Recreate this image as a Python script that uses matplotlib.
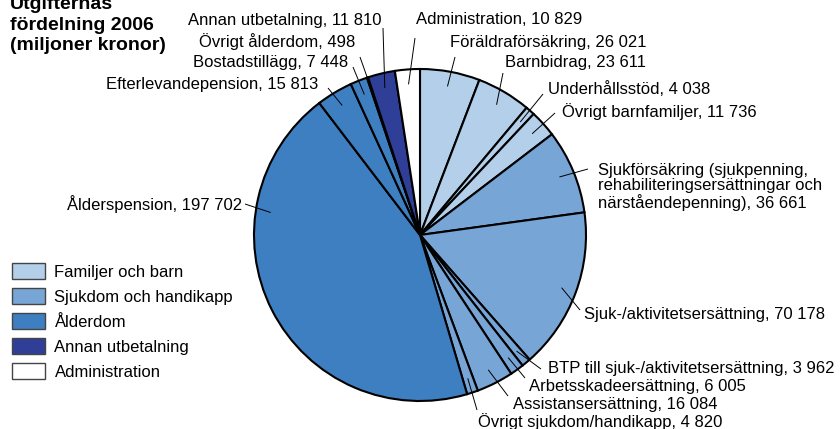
import matplotlib
matplotlib.use("Agg")
import matplotlib.pyplot as plt
from matplotlib.patches import Patch
import numpy as np

plt.rcParams['font.family'] = ['Liberation Sans', 'DejaVu Sans']

# ---- data ----
categories = ["Föräldraförsäkring", "Barnbidrag", "Underhållsstöd", "Övrigt barnfamiljer",
              "Sjukförsäkring (sjukpenning,\nrehabiliteringsersättningar och\nnärståendepenning)",
              "Sjuk-/aktivitetsersättning", "BTP till sjuk-/aktivitetsersättning",
              "Arbetsskadeersättning", "Assistansersättning", "Övrigt sjukdom/handikapp",
              "Ålderspension", "Efterlevandepension", "Bostadstillägg", "Övrigt ålderdom",
              "Annan utbetalning", "Administration"]
values = [26021, 23611, 4038, 11736, 36661, 70178, 3962, 6005, 16084, 4820,
          197702, 15813, 7448, 498, 11810, 10829]
value_labels = ["26 021", "23 611", "4 038", "11 736", "36 661", "70 178", "3 962", "6 005",
                "16 084", "4 820", "197 702", "15 813", "7 448", "498", "11 810", "10 829"]
groups = [0, 0, 0, 0, 1, 1, 1, 1, 1, 1, 2, 2, 2, 2, 3, 4]
group_names = ["Familjer och barn", "Sjukdom och handikapp", "Ålderdom",
               "Annan utbetalning", "Administration"]
title = "Utgifternas\nfördelning 2006\n(miljoner kronor)"

# ---- style / layout ----
group_colors = ["#b3cfea", "#77a5d6", "#3e7fc1", "#2f3f98", "#ffffff"]
# label layout in pixel coords: (leader end x, y, text x, text y, ha,
#                                clockwise position within wedge)
label_layout = [
    (455, 57, 450, 43, "left", 0.5),
    (503, 73, 505, 63, "left", 0.5),
    (543, 94, 548, 89, "left", 0.5),
    (555, 113, 562, 112, "left", 0.5),
    (588, 169, 598, 187, "left", 0.5),
    (580, 310, 584, 315, "left", 0.5),
    (541, 369, 548, 368, "left", 0.5),
    (525, 378, 529, 387, "left", 0.5),
    (508, 396, 513, 405, "left", 0.5),
    (477, 410, 478, 422, "left", 0.5),
    (245, 204, 242, 204, "right", 0.723),
    (328, 88, 318, 85, "right", 0.5),
    (353, 67, 348, 63, "right", 0.5),
    (360, 57, 355, 42, "right", 0.5),
    (383, 28, 382, 20, "right", 0.5),
    (415, 38, 416, 20, "left", 0.5),
]

W, H = 840, 429
CX, CY, R = 420, 235, 166


def px(x, y):
    return (x - CX) / R, (CY - y) / R


fig = plt.figure(figsize=(W / 100, H / 100), dpi=100)
ax = fig.add_axes([0, 0, 1, 1])

colors = [group_colors[g] for g in groups]
wedges, _ = ax.pie(values, colors=colors, startangle=90, counterclock=False,
                   radius=1.0, center=(0, 0),
                   wedgeprops=dict(edgecolor='black', linewidth=1.5))

ax.set_xlim(-CX / R, (W - CX) / R)
ax.set_ylim(-(H - CY) / R, CY / R)
ax.set_aspect('equal')
ax.axis('off')

for w, cat, vl, lay in zip(wedges, categories, value_labels, label_layout):
    frac = lay[5]
    ang = np.deg2rad(w.theta2 - frac * (w.theta2 - w.theta1))
    sx, sy = 0.91 * np.cos(ang), 0.91 * np.sin(ang)
    ex, ey = px(lay[0], lay[1])
    ax.plot([sx, ex], [sy, ey], color='black', lw=0.7, solid_capstyle='butt')
    tx, ty = px(lay[2], lay[3])
    ax.text(tx, ty, f"{cat}, {vl}", ha=lay[4], va='center', fontsize=12,
            linespacing=1.05)

fig.text(10 / W, 1 - 25 / H, title, ha='left', va='center', fontsize=14,
         fontweight='bold', linespacing=1.29)

handles = [Patch(facecolor=c, edgecolor='#444444', linewidth=1.0) for c in group_colors]
fig.legend(handles, group_names, loc='upper left', bbox_to_anchor=(12 / W, 1 - 263 / H),
           frameon=False, fontsize=12, handlelength=2.0, handleheight=1.1,
           handletextpad=0.55, labelspacing=0.5, borderpad=0, borderaxespad=0)

fig.savefig("out.png", dpi=100)
